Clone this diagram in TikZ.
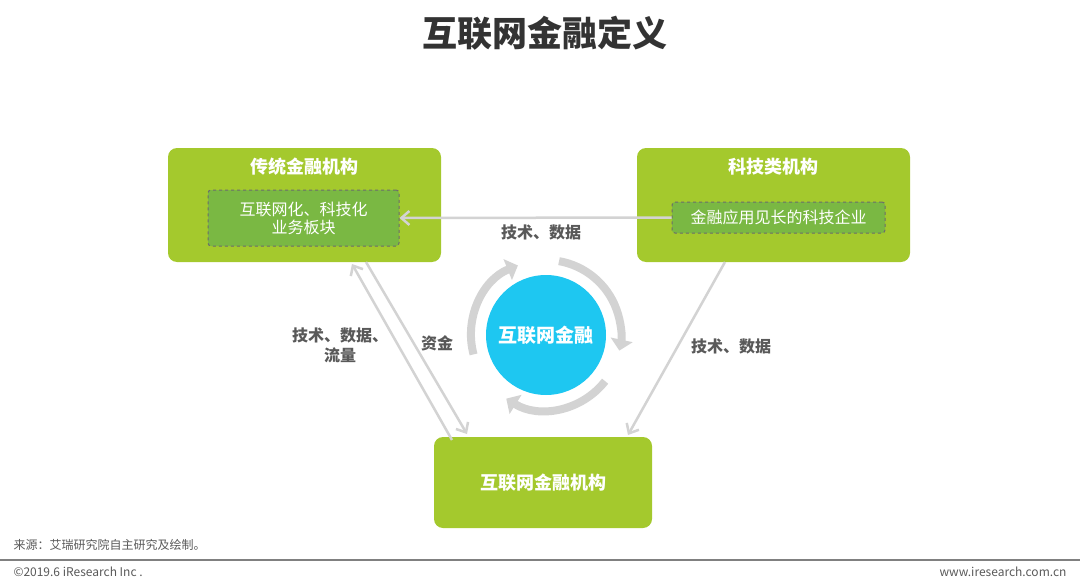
\documentclass[tikz,border=0pt]{standalone}
\usepackage{fontspec}
\setmainfont{Noto Sans CJK SC}
\usetikzlibrary{arrows.meta}
\definecolor{lg}{HTML}{A4C92D}
\definecolor{dg}{HTML}{7AB843}
\definecolor{ar}{HTML}{D3D3D3}
\definecolor{tx}{HTML}{595959}
\definecolor{cb}{HTML}{1EC7F1}
\begin{document}
\begin{tikzpicture}[x=1pt,y=-1pt,
  box/.style={fill=lg,rounded corners=9pt,draw=none},
  inner/.style={fill=dg,draw=gray!85!black,dashed,line width=1pt,rounded corners=3pt,text=white,align=center,font=\fontsize{16}{20}\selectfont},
  btitle/.style={text=white,font=\fontsize{18}{20}\selectfont\bfseries},
  lab/.style={text=tx,font=\fontsize{16}{20}\selectfont\bfseries,align=center},
  con/.style={draw=ar,line width=2.5pt,-{Straight Barb[length=8pt,width=14pt,line width=2.5pt]}},
  cyc/.style={draw=ar,line width=8pt,-{Triangle[length=11pt,width=22pt]}}]
\useasboundingbox (0,0) rectangle (1080,586);
\node[text=black!80,font=\fontsize{35}{38}\selectfont\bfseries] (title) at (545,33) {互联网金融定义};
% boxes
\path[box] (168,148) rectangle (441,262); \node[btitle] (t1) at (304.5,167) {传统金融机构};
\node[inner,minimum width=191pt,minimum height=56pt] (i1) at (303.5,218) {互联网化、科技化\\[-2pt]业务板块};
\path[box] (637,148) rectangle (910,262); \node[btitle] (t2) at (773.5,167) {科技类机构};
\node[inner,minimum width=213pt,minimum height=31pt] (i2) at (778.5,217.5) {金融应用见长的科技企业};
\path[box] (434,437) rectangle (652,528);
\node[text=white,font=\fontsize{18}{20}\selectfont\bfseries] (b) at (543,483) {互联网金融机构};
\coordinate (L1a) at (452,440); \coordinate (L1b) at (352,264);
\coordinate (L2a) at (366,262); \coordinate (L2b) at (467,434);
\coordinate (R1a) at (725,262); \coordinate (R1b) at (628,435);
% connectors
\draw[con] (i2.west) -- (i1.east);
\draw[con] (L1a) -- (L1b);
\draw[con] (L2a) -- (L2b);
\draw[con] (R1a) -- (R1b);
% circle
\node[circle,fill=cb,minimum size=120pt,text=white,font=\fontsize{19}{20}\selectfont\bfseries] (c) at (546,335) {互联网金融};
\draw[cyc] ([shift={(-195:75)}]c.center) arc[start angle=-195,end angle=-112,radius=75];
\draw[cyc] ([shift={(-80:75)}]c.center) arc[start angle=-80,end angle=12,radius=75];
\draw[cyc] ([shift={(38:75)}]c.center) arc[start angle=38,end angle=122,radius=75];
% labels
\node[lab] (la) at (541,232) {技术、数据};
\node[lab] (lb) at (340,345) {技术、数据、\\流量};
\node[lab] (lc) at (437,343) {资金};
\node[lab] (ld) at (731,346) {技术、数据};
% footer
\node[anchor=west,text=tx,font=\fontsize{12}{14}\selectfont] (src) at (10,545) {来源：艾瑞研究院自主研究及绘制。};
\draw[gray,line width=1.2pt] (0,560) -- (1080,560);
\node[anchor=west,text=tx,font=\fontsize{12}{14}\selectfont] (cp) at (10,572) {©2019.6 iResearch Inc .};
\node[anchor=east,text=tx,font=\fontsize{12}{14}\selectfont] (www) at (1070,572) {www.iresearch.com.cn};
\end{tikzpicture}
\end{document}
